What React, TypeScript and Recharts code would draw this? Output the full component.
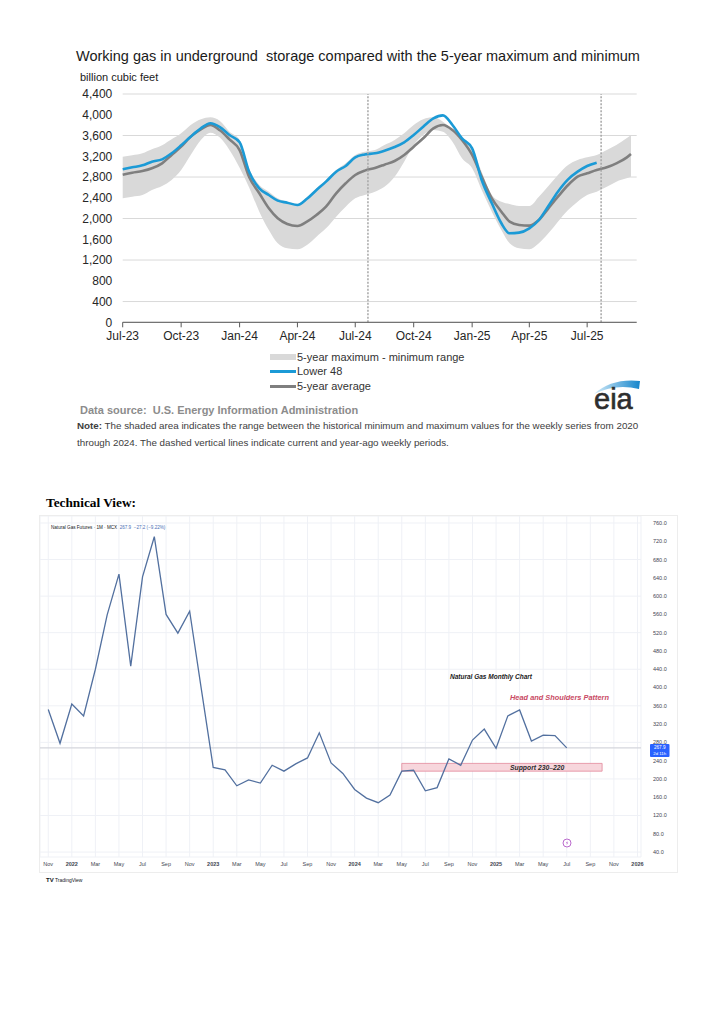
import React from "react";
import {
  ComposedChart,
  Area,
  Line,
  XAxis,
  YAxis,
  CartesianGrid,
  ReferenceLine,
  ReferenceArea,
} from "recharts";

const SANS = '"Liberation Sans", Arial, Helvetica, sans-serif';
const SERIF = '"Liberation Serif", "Times New Roman", serif';

// ---- EIA storage chart (billion cubic feet), read about twice a month ----
const storageDates = [
  "2023-07-01", "2023-07-16", "2023-08-01", "2023-08-16", "2023-09-01", "2023-09-16",
  "2023-10-01", "2023-10-16", "2023-11-01", "2023-11-16", "2023-12-01", "2023-12-16",
  "2024-01-01", "2024-01-16", "2024-02-01", "2024-02-16", "2024-03-01", "2024-03-16",
  "2024-04-01", "2024-04-16", "2024-05-01", "2024-05-16", "2024-06-01", "2024-06-16",
  "2024-07-01", "2024-07-16", "2024-08-01", "2024-08-16", "2024-09-01", "2024-09-16",
  "2024-10-01", "2024-10-16", "2024-11-01", "2024-11-16", "2024-12-01", "2024-12-16",
  "2025-01-01", "2025-01-16", "2025-02-01", "2025-02-16", "2025-03-01", "2025-03-16",
  "2025-04-01", "2025-04-16", "2025-05-01", "2025-05-16", "2025-06-01", "2025-06-16",
  "2025-07-01", "2025-07-16", "2025-08-01", "2025-08-16", "2025-09-01", "2025-09-08",
];

const lower48 = [
  2948, 2987, 3025, 3096, 3141, 3257, 3411, 3578, 3738, 3835,
  3760, 3610, 3470, 2900, 2582, 2454, 2345, 2306, 2261, 2380,
  2550, 2711, 2903, 3013, 3180, 3235, 3257, 3308, 3379, 3469,
  3610, 3770, 3931, 3989, 3803, 3546, 3353, 2743, 2293, 1908,
  1715, 1728, 1811, 1972, 2242, 2518, 2755, 2903, 3013, 3077,
  null, null, null, null,
];

const avg5 = [
  2845, 2884, 2916, 2968, 3064, 3225, 3385, 3578, 3719, 3803,
  3700, 3526, 3320, 2800, 2486, 2197, 2004, 1895, 1856, 1940,
  2068, 2229, 2486, 2679, 2839, 2923, 2974, 3038, 3109, 3225,
  3385, 3546, 3738, 3803, 3706, 3514, 3225, 2807, 2389, 2132,
  1940, 1876, 1863, 1972, 2197, 2421, 2646, 2807, 2871, 2935,
  2987, 3064, 3173, 3244,
];

const max5 = [
  3192, 3218, 3257, 3334, 3411, 3526, 3642, 3803, 3912, 3950,
  3880, 3674, 3520, 2960, 2646, 2518, 2389, 2325, 2280, 2409,
  2582, 2743, 2935, 3064, 3225, 3289, 3321, 3417, 3514, 3642,
  3803, 3912, 3950, 3867, 3706, 3560, 3360, 2903, 2454, 2325,
  2280, 2242, 2242, 2421, 2627, 2839, 3032, 3128, 3180, 3225,
  3321, 3417, 3546, 3610,
];

const min5 = [
  2389, 2421, 2454, 2550, 2627, 2743, 2935, 3225, 3514, 3655,
  3560, 3321, 2980, 2600, 2132, 1779, 1522, 1426, 1407, 1490,
  1651, 1811, 2036, 2229, 2389, 2454, 2518, 2614, 2807, 3096,
  3417, 3610, 3706, 3674, 3481, 3160, 2968, 2550, 2132, 1779,
  1522, 1426, 1407, 1522, 1715, 1940, 2165, 2325, 2454, 2518,
  2614, 2711, 2775, 2807,
];

const storageTickDates = [
  "2023-07-01", "2023-10-01", "2024-01-01", "2024-04-01", "2024-07-01",
  "2024-10-01", "2025-01-01", "2025-04-01", "2025-07-01",
];
const storageAxisEnd = "2025-09-17";
const weekMarkers = ["2024-07-21", "2025-07-23"];
const storageYTicks = [0, 400, 800, 1200, 1600, 2000, 2400, 2800, 3200, 3600, 4000, 4400];

// ---- MCX natural gas futures, monthly closes from Nov 2021 ----
const ngClose = [
  352, 278,
  364, 338, 440, 559, 648, 447, 642, 730, 560, 519, 567, 395,
  225, 220, 185, 198, 191, 230, 217, 233, 246, 301, 235, 212,
  177, 158, 148, 165, 217, 219, 174, 181, 244, 230, 285, 309,
  267, 338, 351, 283, 296, 295, 267.9,
];
const tvTickLabels = [
  "Nov", "2022", "Mar", "May", "Jul", "Sep", "Nov", "2023", "Mar", "May", "Jul", "Sep", "Nov",
  "2024", "Mar", "May", "Jul", "Sep", "Nov", "2025", "Mar", "May", "Jul", "Sep", "Nov", "2026",
];
const tvPriceTicks = [
  40, 80, 120, 160, 200, 240, 280, 320, 360, 400, 440, 480, 520, 560, 600, 640, 680, 720, 760,
];
const supportZone = { from: 30, to: 47, low: 217, high: 234 };

const MONTHS = ["Jan", "Feb", "Mar", "Apr", "May", "Jun", "Jul", "Aug", "Sep", "Oct", "Nov", "Dec"];
const toMs = (d: string) => Date.parse(d + "T00:00:00Z");

const storageData = storageDates.map((d, i) => ({
  t: toMs(d),
  l48: lower48[i],
  avg: avg5[i],
  range: [min5[i], max5[i]],
}));

const ngData = ngClose.map((v, i) => ({ i, close: v }));
const lastClose = ngClose[ngClose.length - 1];

function fmtMonth(v: number) {
  const dt = new Date(v);
  return `${MONTHS[dt.getUTCMonth()]}-${String(dt.getUTCFullYear()).slice(2)}`;
}

function StorageChart() {
  return (
    <ComposedChart
      width={724}
      height={345}
      data={storageData}
      margin={{ top: 94, right: 87.3, bottom: 0, left: 72.7 }}
    >
      <CartesianGrid vertical={false} stroke="#d9d9d9" />
      <XAxis
        dataKey="t"
        type="number"
        scale="time"
        domain={[toMs(storageTickDates[0]), toMs(storageAxisEnd)]}
        ticks={storageTickDates.map(toMs)}
        tickFormatter={fmtMonth}
        height={22.7}
        tickSize={5}
        tickMargin={4.4}
        stroke="#595959"
        tick={{ fill: "#262626", fontSize: 12, fontFamily: SANS }}
      />
      <YAxis
        domain={[0, 4400]}
        ticks={storageYTicks}
        width={50}
        axisLine={false}
        tickLine={false}
        tickSize={0}
        tickMargin={10.4}
        tickFormatter={(v: number) => v.toLocaleString("en-US")}
        tick={{ fill: "#262626", fontSize: 12, fontFamily: SANS }}
      />
      <Area
        dataKey="range"
        type="monotone"
        stroke="none"
        fill="#d9d9d9"
        fillOpacity={1}
        isAnimationActive={false}
      />
      <Line dataKey="avg" type="monotone" stroke="#7f7f7f" strokeWidth={2.6} dot={false} isAnimationActive={false} />
      <Line dataKey="l48" type="monotone" stroke="#1b9ad6" strokeWidth={2.6} dot={false} isAnimationActive={false} />
      {weekMarkers.map((d) => (
        <ReferenceLine key={d} x={toMs(d)} stroke="#a6a6a6" strokeWidth={1.5} strokeDasharray="2 1.5" />
      ))}
    </ComposedChart>
  );
}

function TvTick(props: any) {
  const { x, y, payload } = props;
  const label = tvTickLabels[Math.round(payload.value / 2)];
  const isYear = /^\d{4}$/.test(label);
  return (
    <text x={x} y={y} dy={4.5} textAnchor="middle" fontSize={5.5} fontFamily={SANS}
      fontWeight={isYear ? 700 : 400} fill="#434651">
      {label}
    </text>
  );
}

function PriceTag(props: any) {
  const vb = props.viewBox || {};
  const x = vb.x + vb.width + 9;
  const y = vb.y;
  return (
    <g>
      <rect x={x} y={y - 4} width={19.5} height={13} rx={1} fill="#2962ff" />
      <text x={x + 9.75} y={y + 1.5} textAnchor="middle" fontSize={4.6} fontFamily={SANS} fill="#fff">
        {lastClose.toFixed(1)}
      </text>
      <text x={x + 9.75} y={y + 7} textAnchor="middle" fontSize={4.3} fontFamily={SANS} fill="#fff">
        2d 11h
      </text>
    </g>
  );
}

function SupportLabel(props: any) {
  const vb = props.viewBox || {};
  return (
    <text x={vb.x + vb.width * 0.676} y={vb.y + vb.height / 2 + 2.3} textAnchor="middle"
      fontSize={6.8} fontFamily={SANS} fontWeight={700} fontStyle="italic" fill="#2b2b2b">
      Support 230–220
    </text>
  );
}

function FuturesChart() {
  return (
    <ComposedChart width={637} height={356} data={ngData} margin={{ top: 0, right: 0, bottom: 0, left: 0 }}>
      <CartesianGrid stroke="#eff1f6" />
      <XAxis
        dataKey="i"
        type="number"
        domain={[-0.7, 50.3]}
        ticks={tvTickLabels.map((_, k) => k * 2)}
        allowDataOverflow
        height={15}
        axisLine={false}
        tickLine={false}
        tickSize={0}
        tickMargin={4}
        tick={<TvTick />}
      />
      <YAxis
        orientation="right"
        domain={[29.2, 775.3]}
        ticks={tvPriceTicks}
        allowDataOverflow
        width={36}
        axisLine={false}
        tickLine={false}
        tickSize={0}
        tickMargin={12}
        tickFormatter={(v: number) => v.toFixed(1)}
        tick={{ fill: "#434651", fontSize: 5.5, fontFamily: SANS }}
      />
      <ReferenceArea
        x1={supportZone.from}
        x2={supportZone.to}
        y1={supportZone.low}
        y2={supportZone.high}
        fill="#f7d6dc"
        fillOpacity={1}
        stroke="#e3899a"
        strokeWidth={0.8}
        label={SupportLabel}
      />
      <ReferenceLine y={lastClose} stroke="#d4d6dc" strokeWidth={1.2} label={PriceTag} />
      <Line dataKey="close" type="linear" stroke="#52709f" strokeWidth={1.3} dot={false} isAnimationActive={false} />
    </ComposedChart>
  );
}

const abs = (left: number, top: number, extra: React.CSSProperties = {}): React.CSSProperties => ({
  position: "absolute",
  left,
  top,
  whiteSpace: "pre",
  lineHeight: 1,
  ...extra,
});

export default function App() {
  return (
    <div style={{ position: "absolute", left: 0, top: 0, width: 724, height: 1024, background: "#fff", fontFamily: SANS }}>
      <div style={abs(76, 48.5, { fontSize: 14.5, color: "#1a1a1a" })}>
        {"Working gas in underground  storage compared with the 5-year maximum and minimum"}
      </div>
      <div style={abs(80, 72, { fontSize: 11, color: "#1a1a1a" })}>billion cubic feet</div>

      <div style={{ position: "absolute", left: 0, top: 0 }}>
        <StorageChart />
      </div>

      {/* legend */}
      <div style={abs(270, 354, { width: 26, height: 6, background: "#d9d9d9" })} />
      <div style={abs(297, 351.5, { fontSize: 11, color: "#333" })}>5-year maximum - minimum range</div>
      <div style={abs(270, 370, { width: 26, height: 3, background: "#1b9ad6" })} />
      <div style={abs(297, 366, { fontSize: 11, color: "#333" })}>Lower 48</div>
      <div style={abs(270, 384.5, { width: 26, height: 3, background: "#7f7f7f" })} />
      <div style={abs(297, 380.5, { fontSize: 11, color: "#333" })}>5-year average</div>

      {/* eia logo */}
      <svg style={{ position: "absolute", left: 586, top: 372 }} width={58} height={44}>
        <defs>
          <linearGradient id="swoosh" x1="0" x2="1" y1="0" y2="0">
            <stop offset="0" stopColor="#d3ebf8" />
            <stop offset="1" stopColor="#1686cc" />
          </linearGradient>
        </defs>
        <path d="M8 22 Q26 6 54 9 L53 17 Q30 11 8 22 Z" fill="url(#swoosh)" />
        <text x={8} y={37} fontSize={29} fontFamily={SANS} fill="#2e2e2e" stroke="#2e2e2e" strokeWidth={0.6}>eia</text>
      </svg>

      <div style={abs(80, 404.5, { fontSize: 11, fontWeight: 700, color: "#8c8c8c" })}>
        {"Data source:  U.S. Energy Information Administration"}
      </div>
      <div style={abs(77, 421, { fontSize: 9.8, color: "#3d3d3d" })}>
        <b>Note:</b>
        {" The shaded area indicates the range between the historical minimum and maximum values for the weekly series from 2020"}
      </div>
      <div style={abs(77, 438, { fontSize: 9.8, color: "#3d3d3d" })}>
        through 2024. The dashed vertical lines indicate current and year-ago weekly periods.
      </div>

      <div style={abs(46, 495.5, { fontSize: 13.3, fontWeight: 700, fontFamily: SERIF, color: "#000" })}>
        Technical View:
      </div>

      {/* TradingView snapshot */}
      <div style={{ position: "absolute", left: 39, top: 515, width: 639, height: 358, border: "1px solid #ededed", boxSizing: "border-box" }} />
      <div style={{ position: "absolute", left: 40, top: 516 }}>
        <FuturesChart />
      </div>
      <div style={abs(51, 525.5, { fontSize: 4.6, color: "#131722" })}>
        {"Natural Gas Futures · 1M · MCX  "}
        <span style={{ color: "#4a6fb5" }}>{`${lastClose.toFixed(1)}  −27.2 (−9.22%)`}</span>
      </div>
      <div style={abs(450, 674, { fontSize: 6.5, fontWeight: 700, fontStyle: "italic", color: "#1a1a1a" })}>
        Natural Gas Monthly Chart
      </div>
      <div style={abs(510, 693.5, { fontSize: 7.4, fontWeight: 700, fontStyle: "italic", color: "#c94a64" })}>
        Head and Shoulders Pattern
      </div>
      <svg style={{ position: "absolute", left: 562, top: 838 }} width={10} height={10}>
        <circle cx={5} cy={5} r={4} fill="#fff" stroke="#b259c6" strokeWidth={0.9} />
        <path d="M5.6 2.6 L3.9 5.3 L5.2 5.3 L4.4 7.5 L6.2 4.6 L4.9 4.6 Z" fill="#b259c6" />
      </svg>
      <div style={abs(46, 877, { fontSize: 5, color: "#131722" })}>
        <span style={{ fontWeight: 900, fontSize: 6 }}>TV</span> TradingView
      </div>
    </div>
  );
}
